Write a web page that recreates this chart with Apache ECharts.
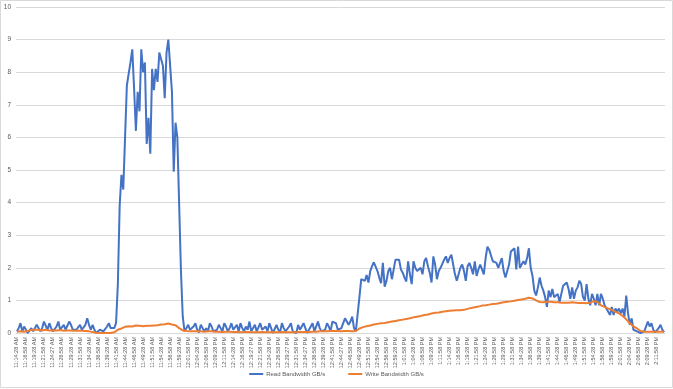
<!DOCTYPE html>
<html><head><meta charset="utf-8">
<script src="https://cdn.jsdelivr.net/npm/echarts@6/dist/echarts.min.js"></script>
<style>html,body{margin:0;padding:0;background:#fff}#c{width:673px;height:389px}</style>
</head><body><div id="c"></div>
<script>
const tickLabels = ["11:14:28 AM","11:16:58 AM","11:19:28 AM","11:21:58 AM","11:24:27 AM","11:26:58 AM","11:29:28 AM","11:31:58 AM","11:34:28 AM","11:36:58 AM","11:39:28 AM","11:41:58 AM","11:44:28 AM","11:46:58 AM","11:49:28 AM","11:51:58 AM","11:54:28 AM","11:56:58 AM","11:59:28 AM","12:01:58 PM","12:04:28 PM","12:06:58 PM","12:09:28 PM","12:11:58 PM","12:14:28 PM","12:16:58 PM","12:19:27 PM","12:21:58 PM","12:24:28 PM","12:26:58 PM","12:29:27 PM","12:31:58 PM","12:34:27 PM","12:36:58 PM","12:39:28 PM","12:41:58 PM","12:44:27 PM","12:46:58 PM","12:49:28 PM","12:51:58 PM","12:54:28 PM","12:56:58 PM","12:59:28 PM","1:01:58 PM","1:04:28 PM","1:06:58 PM","1:09:28 PM","1:11:58 PM","1:14:28 PM","1:16:58 PM","1:19:28 PM","1:21:58 PM","1:24:28 PM","1:26:58 PM","1:29:28 PM","1:31:58 PM","1:34:28 PM","1:36:58 PM","1:39:28 PM","1:41:58 PM","1:44:28 PM","1:46:58 PM","1:49:28 PM","1:51:58 PM","1:54:28 PM","1:56:58 PM","1:59:28 PM","2:01:58 PM","2:04:28 PM","2:06:58 PM","2:09:28 PM","2:11:58 PM"];
const samplesPerTick = 5;

const readGBs = [
0.05,0.15,0.3,0.05,0.2,0.1,0.0,0.05,0.15,0.05,
0.1,0.25,0.3,0.05,0.15,0.35,0.3,0.1,0.3,0.15,
0.05,0.1,0.2,0.35,0.1,0.05,0.25,0.1,0.15,0.35,
0.25,0.1,0.05,0.1,0.15,0.25,0.1,0.05,0.25,0.45,
0.25,0.1,0.25,0.1,0.0,0.02,0.1,0.15,0.05,0.1,
0.2,0.3,0.15,0.1,0.15,0.3,1.5,3.9,4.85,4.4,
6.0,7.6,7.65,8.3,8.7,7.5,6.2,7.4,6.8,8.7,
8.0,8.3,5.8,6.6,5.5,8.1,7.45,8.1,7.7,8.6,
8.4,8.2,7.2,8.6,9.0,8.2,7.4,4.95,6.45,6.0,
5.95,1.9,0.5,0.05,0.15,0.25,0.1,0.05,0.2,0.3,
0.1,0.02,0.25,0.3,0.05,0.15,0.05,0.3,0.2,0.05,
0.0,0.1,0.25,0.15,0.05,0.3,0.2,0.05,0.15,0.3,
0.1,0.05,0.25,0.05,0.3,0.15,0.05,0.2,0.1,0.35,
0.05,0.15,0.25,0.05,0.0,0.3,0.1,0.05,0.2,0.05,
0.3,0.15,0.0,0.05,0.25,0.1,0.02,0.3,0.15,0.05,
0.0,0.2,0.3,0.05,0.1,0.0,0.25,0.1,0.05,0.3,
0.15,0.0,0.05,0.2,0.3,0.05,0.1,0.35,0.15,0.05,
0.02,0.1,0.3,0.2,0.05,0.35,0.4,0.3,0.1,0.05,
0.15,0.3,0.45,0.4,0.25,0.35,0.5,0.15,0.05,0.08,
1.1,1.65,1.68,1.6,1.78,1.55,1.9,2.05,2.17,2.15,
1.9,1.7,1.53,2.15,1.42,1.6,1.9,2.0,1.65,1.95,
2.25,2.3,2.25,1.95,1.85,1.7,1.58,2.2,1.8,1.5,
2.2,2.0,1.9,1.85,2.0,1.8,2.2,2.3,2.05,1.85,
1.55,2.35,2.1,1.65,1.9,2.0,2.05,2.25,2.35,2.15,
2.3,2.4,2.1,1.8,1.6,1.55,2.0,2.1,1.9,1.6,
2.05,2.15,2.0,1.8,2.2,1.75,1.95,2.1,1.95,1.8,
2.3,2.65,2.55,2.5,2.2,2.25,2.15,2.0,1.95,2.3,
1.9,1.7,1.75,2.1,2.5,2.55,2.6,1.95,2.65,2.0,
2.0,2.2,2.1,2.3,2.6,2.0,1.75,1.3,1.15,1.4,
1.7,1.45,1.3,1.1,0.8,1.3,1.1,1.35,1.1,1.15,
1.2,0.95,1.2,1.45,1.5,1.55,1.35,1.05,1.4,1.05,
1.3,1.4,1.6,1.5,1.1,1.0,1.5,1.05,0.85,1.2,
1.05,0.85,1.2,0.85,1.2,1.05,0.85,0.8,0.65,0.55,
0.8,0.55,0.75,0.65,0.75,0.6,0.75,0.5,1.15,0.6,
0.25,0.45,0.1,0.15,0.05,0.03,0.0,0.02,0.05,0.1,
0.35,0.2,0.3,0.1,0.02,0.05,0.15,0.25,0.1,0.03
];

const writeGBs = [
0.04,0.04,0.05,0.05,0.04,0.05,0.06,0.07,0.09,0.1,
0.1,0.09,0.1,0.09,0.08,0.09,0.1,0.09,0.08,0.09,
0.08,0.09,0.08,0.08,0.09,0.08,0.07,0.08,0.08,0.07,
0.08,0.07,0.07,0.08,0.07,0.06,0.07,0.06,0.06,0.05,
0.05,0.04,0.03,0.02,0.01,0.01,0.0,0.01,0.0,0.01,
0.0,0.01,0.0,0.01,0.02,0.05,0.1,0.12,0.14,0.16,
0.19,0.2,0.21,0.22,0.2,0.22,0.23,0.21,0.22,0.22,
0.21,0.23,0.22,0.24,0.22,0.24,0.23,0.25,0.24,0.25,
0.26,0.25,0.27,0.28,0.29,0.27,0.26,0.25,0.24,0.21,
0.15,0.1,0.08,0.07,0.06,0.06,0.05,0.06,0.05,0.05,
0.05,0.06,0.05,0.05,0.04,0.05,0.05,0.04,0.05,0.04,
0.04,0.05,0.04,0.04,0.03,0.04,0.04,0.03,0.04,0.03,
0.03,0.04,0.03,0.03,0.02,0.03,0.03,0.02,0.03,0.02,
0.02,0.03,0.02,0.02,0.02,0.02,0.03,0.02,0.02,0.02,
0.02,0.02,0.03,0.02,0.02,0.03,0.02,0.02,0.03,0.02,
0.02,0.03,0.02,0.03,0.02,0.03,0.03,0.02,0.03,0.03,
0.03,0.04,0.03,0.04,0.04,0.03,0.04,0.04,0.05,0.04,
0.05,0.04,0.05,0.05,0.06,0.05,0.06,0.05,0.06,0.06,
0.05,0.06,0.06,0.05,0.06,0.06,0.05,0.06,0.06,0.1,
0.14,0.16,0.18,0.19,0.21,0.22,0.23,0.25,0.26,0.27,
0.28,0.29,0.3,0.3,0.31,0.32,0.33,0.34,0.35,0.36,
0.37,0.38,0.39,0.39,0.41,0.42,0.43,0.44,0.45,0.46,
0.48,0.48,0.5,0.51,0.52,0.53,0.55,0.56,0.57,0.58,
0.6,0.6,0.62,0.62,0.63,0.64,0.65,0.66,0.67,0.68,
0.68,0.69,0.69,0.7,0.7,0.71,0.7,0.71,0.71,0.72,
0.74,0.75,0.77,0.78,0.79,0.8,0.81,0.82,0.84,0.84,
0.85,0.86,0.87,0.88,0.89,0.89,0.9,0.91,0.92,0.93,
0.94,0.95,0.96,0.97,0.97,0.98,0.99,1.0,1.01,1.02,
1.03,1.04,1.05,1.07,1.08,1.1,1.06,1.02,1.0,0.97,
0.95,0.93,0.94,0.95,0.96,0.95,0.96,0.95,0.94,0.95,
0.94,0.94,0.93,0.94,0.93,0.94,0.93,0.93,0.94,0.93,
0.93,0.93,0.92,0.93,0.92,0.92,0.91,0.91,0.93,0.96,
0.98,1.01,0.95,0.9,0.85,0.82,0.8,0.77,0.75,0.73,
0.71,0.68,0.65,0.62,0.6,0.56,0.52,0.47,0.42,0.36,
0.3,0.25,0.2,0.17,0.14,0.1,0.06,0.04,0.04,0.04,
0.04,0.04,0.04,0.04,0.04,0.04,0.04,0.04,0.04,0.04
];

const seriesNames = ["Read Bandwidth GB/s", "Write Bandwidth GB/s"];

const categories = readGBs.map((_, i) => (i % samplesPerTick === 0 && tickLabels[i / samplesPerTick]) ? tickLabels[i / samplesPerTick] : '');

const chart = echarts.init(document.getElementById('c'), null, {renderer: 'canvas'});
chart.setOption({
  animation: false,
  backgroundColor: '#fff',
  textStyle: {fontFamily: 'Liberation Sans, Arial, sans-serif'},
  graphic: [{type: 'rect', shape: {x: 0.5, y: 0.5, width: 672, height: 387}, style: {fill: 'none', stroke: '#D9D9D9', lineWidth: 1}, silent: true, z: -1}],
  grid: {left: 16, right: 8, top: 7, bottom: 56, containLabel: false},
  legend: {
    bottom: 7, left: 'center', itemGap: 23, itemWidth: 14, itemHeight: 2, icon: 'rect',
    textStyle: {fontSize: 6, color: '#595959', padding: [0,0,0,-2]},
    data: seriesNames
  },
  xAxis: {
    type: 'category', data: categories, boundaryGap: true,
    axisLine: {lineStyle: {color: '#D9D9D9', width: 1}},
    axisTick: {show: false},
    axisLabel: {interval: samplesPerTick - 1, rotate: 90, fontSize: 5.5, color: '#595959', margin: 4}
  },
  yAxis: {
    type: 'value', min: 0, max: 10, interval: 1,
    axisLine: {show: false}, axisTick: {show: false},
    axisLabel: {fontSize: 6.5, color: '#595959', margin: 5},
    splitLine: {lineStyle: {color: '#D9D9D9', width: 1}}
  },
  series: [
    {name: seriesNames[0], type: 'line', data: readGBs, showSymbol: false, symbol: 'none', lineStyle: {color: '#4472C4', width: 2}, itemStyle: {color: '#4472C4'}},
    {name: seriesNames[1], type: 'line', data: writeGBs, showSymbol: false, symbol: 'none', lineStyle: {color: '#ED7D31', width: 2}, itemStyle: {color: '#ED7D31'}}
  ]
});
</script></body></html>
